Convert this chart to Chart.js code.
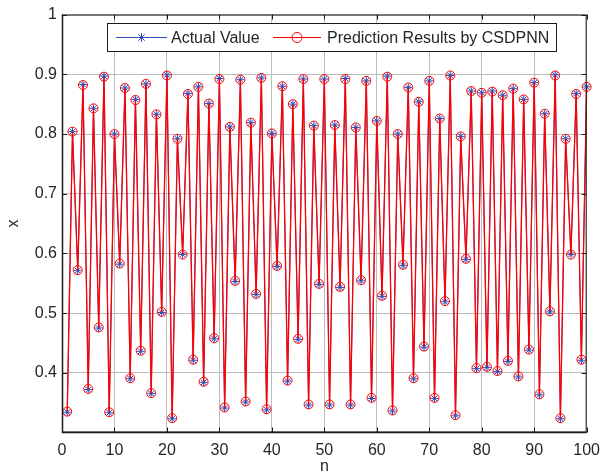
<!DOCTYPE html>
<html>
<head>
<meta charset="utf-8">
<script src="https://cdn.jsdelivr.net/npm/chart.js@4.4.1/dist/chart.umd.min.js"></script>
<style>
    html, body { margin: 0; padding: 0; background: #ffffff; }
    #wrap { width: 608px; height: 476px; }
</style>
</head>
<body>
<div id="wrap"><canvas id="chart" width="608" height="476"></canvas></div>
<script>
// sample index n
const steps = [
    1, 2, 3, 4, 5, 6, 7, 8, 9, 10, 11, 12, 13, 14, 15, 16, 17, 18, 19, 20,
    21, 22, 23, 24, 25, 26, 27, 28, 29, 30, 31, 32, 33, 34, 35, 36, 37, 38, 39, 40,
    41, 42, 43, 44, 45, 46, 47, 48, 49, 50, 51, 52, 53, 54, 55, 56, 57, 58, 59, 60,
    61, 62, 63, 64, 65, 66, 67, 68, 69, 70, 71, 72, 73, 74, 75, 76, 77, 78, 79, 80,
    81, 82, 83, 84, 85, 86, 87, 88, 89, 90, 91, 92, 93, 94, 95, 96, 97, 98, 99, 100
];

const actualValues = [
    0.334, 0.804, 0.571, 0.883, 0.372, 0.843, 0.475, 0.897, 0.333, 0.800,
    0.582, 0.877, 0.390, 0.858, 0.436, 0.884, 0.365, 0.833, 0.501, 0.899,
    0.323, 0.792, 0.598, 0.868, 0.421, 0.879, 0.384, 0.851, 0.457, 0.893,
    0.341, 0.812, 0.553, 0.891, 0.351, 0.819, 0.531, 0.894, 0.338, 0.801,
    0.578, 0.880, 0.386, 0.850, 0.456, 0.892, 0.346, 0.814, 0.548, 0.892,
    0.346, 0.815, 0.543, 0.893, 0.346, 0.811, 0.554, 0.889, 0.357, 0.822,
    0.528, 0.897, 0.336, 0.800, 0.580, 0.878, 0.390, 0.854, 0.443, 0.889,
    0.357, 0.826, 0.519, 0.898, 0.328, 0.796, 0.590, 0.872, 0.407, 0.869,
    0.409, 0.872, 0.402, 0.865, 0.419, 0.876, 0.393, 0.858, 0.438, 0.886,
    0.363, 0.834, 0.502, 0.899, 0.323, 0.792, 0.598, 0.868, 0.421, 0.879
];

const predictedValues = [
    0.335, 0.804, 0.572, 0.882, 0.373, 0.843, 0.476, 0.896, 0.334, 0.800,
    0.583, 0.877, 0.391, 0.857, 0.437, 0.884, 0.366, 0.833, 0.502, 0.898,
    0.324, 0.792, 0.598, 0.867, 0.422, 0.879, 0.385, 0.851, 0.458, 0.892,
    0.342, 0.812, 0.554, 0.891, 0.352, 0.819, 0.532, 0.894, 0.339, 0.801,
    0.579, 0.880, 0.387, 0.850, 0.457, 0.892, 0.347, 0.814, 0.549, 0.892,
    0.347, 0.815, 0.544, 0.892, 0.347, 0.811, 0.555, 0.889, 0.358, 0.822,
    0.529, 0.896, 0.337, 0.800, 0.581, 0.878, 0.391, 0.854, 0.444, 0.889,
    0.358, 0.826, 0.520, 0.898, 0.329, 0.796, 0.591, 0.872, 0.408, 0.869,
    0.410, 0.871, 0.403, 0.865, 0.420, 0.876, 0.394, 0.858, 0.439, 0.886,
    0.364, 0.834, 0.503, 0.898, 0.324, 0.792, 0.598, 0.867, 0.422, 0.879
];

const xTicks = [0, 10, 20, 30, 40, 50, 60, 70, 80, 90, 100];
const yTicks = [0.4, 0.5, 0.6, 0.7, 0.8, 0.9, 1];

const seriesNames = ['Actual Value', 'Prediction Results by CSDPNN'];

const FONT = '"Liberation Sans", Arial, Helvetica, sans-serif';
const BLUE = '#2c4cbc';
const RED = '#ff0000';

function toPoints(values) {
    return values.map(function(v, i) {
        return { x: steps[i], y: v };
    });
}

// box round the axes with inward ticks, matlab style
const axesBoxPlugin = {
    id: 'axesBox',
    afterDraw(chart) {
        const ctx = chart.ctx;
        const area = chart.chartArea;
        const xs = chart.scales.x;
        const ys = chart.scales.y;
        const len = 5;

        ctx.save();
        ctx.strokeStyle = '#1a1a1a';
        ctx.lineWidth = 1;

        ctx.beginPath();
        xTicks.forEach(function(t) {
            let px = Math.round(xs.getPixelForValue(t)) + 0.5;
            ctx.moveTo(px, area.bottom);
            ctx.lineTo(px, area.bottom - len);
            ctx.moveTo(px, area.top);
            ctx.lineTo(px, area.top + len);
        });
        yTicks.forEach(function(t) {
            let py = Math.round(ys.getPixelForValue(t)) + 0.5;
            ctx.moveTo(area.left, py);
            ctx.lineTo(area.left + len, py);
            ctx.moveTo(area.right, py);
            ctx.lineTo(area.right - len, py);
        });
        ctx.stroke();

        ctx.strokeRect(area.left + 0.5, area.top + 0.5, area.right - area.left - 1, area.bottom - area.top - 1);
        ctx.lineWidth = 1.5;
        ctx.beginPath();
        ctx.moveTo(area.left + 0.5, area.top);
        ctx.lineTo(area.left + 0.5, area.bottom);
        ctx.lineTo(area.right, area.bottom);
        ctx.stroke();
        ctx.restore();
    }
};

// legend drawn as a boxed sample of line + marker
const boxLegendPlugin = {
    id: 'boxLegend',
    afterDraw(chart) {
        const ctx = chart.ctx;
        const box = { left: 107, top: 23, right: 557, bottom: 52 };
        const cy = (box.top + box.bottom) / 2;

        ctx.save();
        ctx.fillStyle = '#ffffff';
        ctx.fillRect(box.left, box.top, box.right - box.left, box.bottom - box.top);
        ctx.strokeStyle = '#1a1a1a';
        ctx.lineWidth = 1;
        ctx.strokeRect(box.left + 0.5, box.top + 0.5, box.right - box.left - 1, box.bottom - box.top - 1);

        const entries = [
            { x0: 116, x1: 167, color: BLUE, style: 'star', text: seriesNames[0], tx: 171 },
            { x0: 273, x1: 321, color: RED, style: 'circle', text: seriesNames[1], tx: 327 }
        ];

        entries.forEach(function(e) {
            ctx.strokeStyle = e.color;
            ctx.lineWidth = 1.2;
            ctx.beginPath();
            ctx.moveTo(e.x0, cy);
            ctx.lineTo(e.x1, cy);
            ctx.stroke();

            ctx.fillStyle = 'rgba(0,0,0,0)';
            ctx.lineWidth = 1;
            Chart.helpers.drawPoint(ctx, {
                pointStyle: e.style,
                radius: e.style === 'circle' ? 5 : 4.5,
                rotation: 0,
                borderWidth: 1
            }, (e.x0 + e.x1) / 2, cy);

            ctx.fillStyle = '#262626';
            ctx.font = '16px ' + FONT;
            ctx.textBaseline = 'middle';
            ctx.textAlign = 'left';
            ctx.fillText(e.text, e.tx, cy + 1);
        });
        ctx.restore();
    }
};

const ctx = document.getElementById('chart');

new Chart(ctx, {
    type: 'line',
    data: {
        datasets: [
            {
                label: seriesNames[0],
                data: toPoints(actualValues),
                borderColor: BLUE,
                backgroundColor: 'rgba(0,0,0,0)',
                borderWidth: 1,
                pointStyle: 'star',
                pointRadius: 4,
                pointBorderWidth: 1,
                pointBorderColor: BLUE,
                tension: 0,
                clip: false,
                order: 1
            },
            {
                label: seriesNames[1],
                data: toPoints(predictedValues),
                borderColor: RED,
                backgroundColor: 'rgba(0,0,0,0)',
                borderWidth: 1.3,
                pointStyle: 'circle',
                pointRadius: 4.5,
                pointBorderWidth: 1,
                pointBorderColor: RED,
                pointBackgroundColor: 'rgba(0,0,0,0)',
                tension: 0,
                clip: false,
                order: 0
            }
        ]
    },
    options: {
        responsive: false,
        animation: false,
        layout: {
            padding: { left: 0, right: 13, top: 13, bottom: 0 }
        },
        scales: {
            x: {
                type: 'linear',
                min: 0,
                max: 100,
                afterBuildTicks: function(scale) {
                    scale.ticks = xTicks.map(function(v) { return { value: v }; });
                },
                afterFit: function(scale) {
                    scale.height = 43.5;
                },
                grid: {
                    color: '#bcbcbc',
                    lineWidth: 1,
                    drawTicks: false
                },
                border: { display: false },
                ticks: {
                    padding: 8,
                    color: '#262626',
                    font: { family: FONT, size: 16 },
                    maxRotation: 0
                },
                title: {
                    display: true,
                    text: 'n',
                    color: '#262626',
                    font: { family: FONT, size: 16 },
                    padding: { top: 0, bottom: 0 }
                }
            },
            y: {
                type: 'linear',
                min: 0.3,
                max: 1,
                afterBuildTicks: function(scale) {
                    scale.ticks = yTicks.map(function(v) { return { value: v }; });
                },
                afterFit: function(scale) {
                    scale.width = 62;
                },
                grid: {
                    color: '#bcbcbc',
                    lineWidth: 1,
                    drawTicks: false
                },
                border: { display: false },
                ticks: {
                    padding: 5,
                    color: '#262626',
                    font: { family: FONT, size: 16 },
                    callback: function(v) { return String(Math.round(v * 10) / 10); }
                },
                title: {
                    display: true,
                    text: 'x',
                    color: '#262626',
                    font: { family: FONT, size: 16 },
                    padding: { top: 4, bottom: 0 }
                }
            }
        },
        plugins: {
            legend: { display: false },
            tooltip: { enabled: false }
        }
    },
    plugins: [axesBoxPlugin, boxLegendPlugin]
});
</script>
</body>
</html>
